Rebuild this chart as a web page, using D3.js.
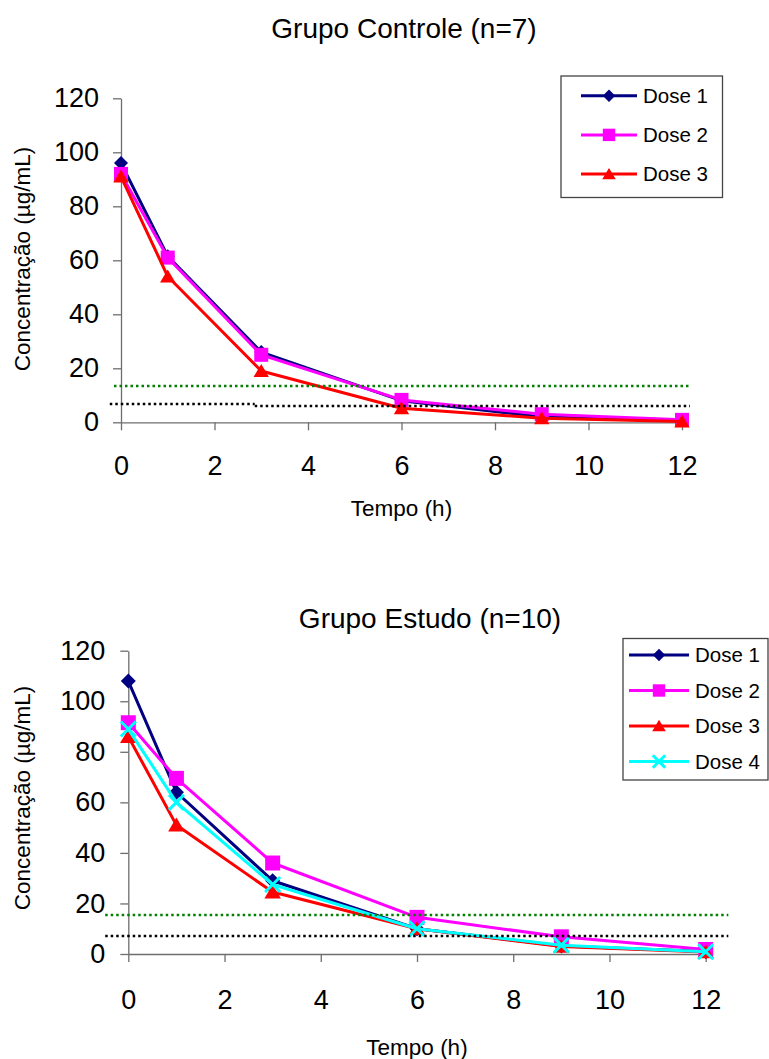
<!DOCTYPE html>
<html>
<head>
<meta charset="utf-8">
<script src="https://cdn.jsdelivr.net/npm/d3@7"></script>
<style>
  body { margin: 0; background: #fff; }
  text { font-family: "Liberation Sans", Arial, sans-serif; fill: #000; }
</style>
</head>
<body>
<script>
// time points (h) and axis ticks
var time = [0, 1, 3, 6, 9, 12];
var xTicks = [0, 2, 4, 6, 8, 10, 12];
var yTicks = [0, 20, 40, 60, 80, 100, 120];

// Grupo Controle (n=7)
var ctrlDose1 = [96, 61.5, 26, 8, 2, 0.8];
var ctrlDose2 = [92, 61, 25, 8.3, 3, 0.9];
var ctrlDose3 = [91, 54, 19, 5.2, 1.5, 0.3];

// Grupo Estudo (n=10)
var estDose1 = [108, 64, 29, 10, 3.2, 1];
var estDose2 = [91.5, 69.5, 36, 14.5, 6.8, 1.8];
var estDose3 = [86, 51, 24.5, 10, 3, 0.8];
var estDose4 = [89, 60, 27.5, 10, 3.5, 0.9];

var doseNames = ["Dose 1", "Dose 2", "Dose 3", "Dose 4"];
var doseColors = ["#000080", "#ff00ff", "#ff0000", "#00ffff"];
var doseMarkers = ["diamond", "square", "triangle", "x"];

// dotted reference lines: [x start, x end, level]
var ctrlGreen = [[-0.15, 12.17, 13.4]];
var ctrlBlack = [[-0.24, 2.86, 6.8], [2.86, 12.17, 6.0]];
var estGreen = [[-0.48, 12.47, 15.4]];
var estBlack = [[-0.48, 12.47, 7.1]];

var svg = d3.select("body").append("svg")
    .attr("width", 769)
    .attr("height", 1059);

// marker shapes, r = half size
function markerPath(type, r) {
    if (type == "diamond") return "M0," + (-r) + "L" + r + ",0L0," + r + "L" + (-r) + ",0Z";
    if (type == "square") return "M" + (-r) + "," + (-r) + "h" + (2 * r) + "v" + (2 * r) + "h" + (-2 * r) + "Z";
    if (type == "triangle") return "M0," + (-r) + "L" + (r * 1.1) + "," + (r * 0.85) + "L" + (-r * 1.1) + "," + (r * 0.85) + "Z";
    return "M" + (-r) + "," + (-r) + "L" + r + "," + r + "M" + (-r) + "," + r + "L" + r + "," + (-r);
}

function drawMarker(g, type, color, r, x, y) {
    var p = g.append("path")
        .attr("transform", "translate(" + x + "," + y + ")")
        .attr("d", markerPath(type, r));
    if (type == "x") {
        p.attr("fill", "none").attr("stroke", color).attr("stroke-width", 3);
    } else {
        p.attr("fill", color);
    }
}

function drawChart(cfg) {
    var x = d3.scaleLinear().domain([0, 12]).range([cfg.left, cfg.right]);
    var y = d3.scaleLinear().domain([0, 120]).range([cfg.bottom, cfg.top]);
    var g = svg.append("g");

    // title
    g.append("text")
        .attr("x", cfg.titleX).attr("y", cfg.titleY)
        .attr("text-anchor", "middle")
        .style("font-size", "28px")
        .text(cfg.title);

    // axes
    var xAxis = g.append("g")
        .attr("transform", "translate(0," + cfg.bottom + ")")
        .call(d3.axisBottom(x).tickValues(xTicks).tickSize(8).tickSizeOuter(0));
    var yAxis = g.append("g")
        .attr("transform", "translate(" + cfg.left + ",0)")
        .call(d3.axisLeft(y).tickValues(yTicks).tickSize(8).tickSizeOuter(0).tickPadding(cfg.yPad));
    [xAxis, yAxis].forEach(function (a) {
        a.selectAll("path, line").attr("stroke", "#6e6e6e").attr("stroke-width", 1.3);
        a.selectAll("text")
            .style("font-size", "27px")
            .style("font-family", "'Liberation Sans', Arial, sans-serif")
            .attr("fill", "#000");
    });
    // x tick labels: baseline placed below the axis
    xAxis.selectAll(".tick text")
        .attr("y", cfg.xTickBase)
        .attr("dy", null);

    // axis labels
    g.append("text")
        .attr("x", (cfg.left + cfg.right) / 2).attr("y", cfg.xLabelY)
        .attr("text-anchor", "middle")
        .style("font-size", "22.5px")
        .text("Tempo (h)");
    g.append("text")
        .attr("transform", "translate(" + cfg.yLabelX + "," + cfg.yLabelY + ") rotate(-90)")
        .attr("text-anchor", "middle")
        .style("font-size", "22.5px")
        .text("Concentração (µg/mL)");

    // series
    var line = d3.line()
        .x(function (d) { return x(d[0]); })
        .y(function (d) { return y(d[1]); });

    cfg.series.forEach(function (vals, i) {
        var pts = time.map(function (t, j) { return [t, vals[j]]; });
        g.append("path")
            .datum(pts)
            .attr("fill", "none")
            .attr("stroke", doseColors[i])
            .attr("stroke-width", 3)
            .attr("stroke-linejoin", "round")
            .attr("d", line);
        pts.forEach(function (p) {
            drawMarker(g, doseMarkers[i], doseColors[i], cfg.markerR, x(p[0]), y(p[1]));
        });
    });

    // dotted reference lines
    function refLines(data, color) {
        g.selectAll(null)
            .data(data)
            .enter().append("line")
            .attr("x1", function (d) { return x(d[0]); })
            .attr("x2", function (d) { return x(d[1]); })
            .attr("y1", function (d) { return y(d[2]); })
            .attr("y2", function (d) { return y(d[2]); })
            .attr("stroke", color)
            .attr("stroke-width", 2.5)
            .attr("stroke-dasharray", "2.5,3");
    }
    refLines(cfg.green, "#008000");
    refLines(cfg.black, "#000");

    // legend
    var lg = cfg.legend;
    g.append("rect")
        .attr("x", lg.x0).attr("y", lg.y0)
        .attr("width", lg.x1 - lg.x0).attr("height", lg.y1 - lg.y0)
        .attr("fill", "#fff")
        .attr("stroke", "#444")
        .attr("stroke-width", 1.3);
    cfg.series.forEach(function (vals, i) {
        var ry = lg.rowY + i * lg.rowStep;
        g.append("line")
            .attr("x1", lg.lineX0).attr("x2", lg.lineX1)
            .attr("y1", ry).attr("y2", ry)
            .attr("stroke", doseColors[i])
            .attr("stroke-width", 3);
        drawMarker(g, doseMarkers[i], doseColors[i], lg.markerR, (lg.lineX0 + lg.lineX1) / 2, ry);
        g.append("text")
            .attr("x", lg.textX).attr("y", ry)
            .attr("dy", "0.36em")
            .style("font-size", "20.5px")
            .text(doseNames[i]);
    });
}

drawChart({
    title: "Grupo Controle (n=7)", titleX: 404, titleY: 38,
    left: 121, right: 682, top: 98.3, bottom: 422.3,
    xTickBase: 53, yPad: 14, xLabelY: 516, yLabelX: 30, yLabelY: 259,
    markerR: 7,
    series: [ctrlDose1, ctrlDose2, ctrlDose3],
    green: ctrlGreen, black: ctrlBlack,
    legend: { x0: 561, y0: 76, x1: 722.5, y1: 197.5, rowY: 95.7, rowStep: 39.2,
              lineX0: 581, lineX1: 637, textX: 643, markerR: 6.2 }
});

drawChart({
    title: "Grupo Estudo (n=10)", titleX: 430, titleY: 628,
    left: 128.3, right: 705.7, top: 650.7, bottom: 954,
    xTickBase: 54.5, yPad: 15, xLabelY: 1055, yLabelX: 30, yLabelY: 798,
    markerR: 7.5,
    series: [estDose1, estDose2, estDose3, estDose4],
    green: estGreen, black: estBlack,
    legend: { x0: 623, y0: 638.5, x1: 768, y1: 780, rowY: 655, rowStep: 35.5,
              lineX0: 629, lineX1: 689, textX: 695, markerR: 6.2 }
});
</script>
</body>
</html>
